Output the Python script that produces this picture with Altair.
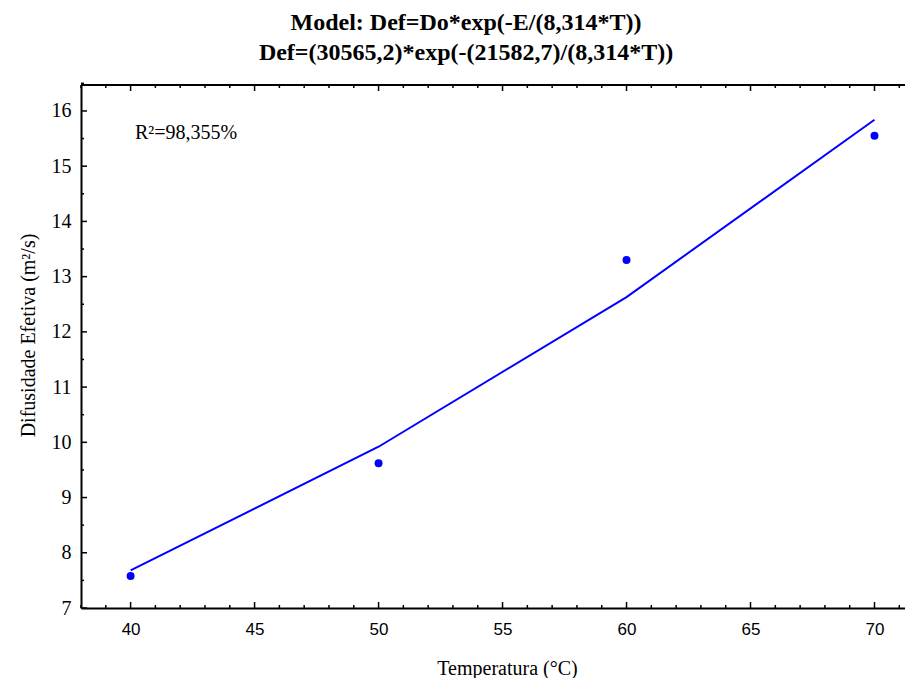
import altair as alt
import pandas as pd

# data
temps = [40, 50, 60, 70]
observed = [7.58, 9.62, 13.30, 15.55]
fitted = [7.68, 9.92, 12.63, 15.84]

x_major = [40, 45, 50, 55, 60, 65, 70]
x_minor = [38, 39, 41, 42, 43, 44, 46, 47, 48, 49, 51, 52, 53, 54, 56, 57, 58, 59,
           61, 62, 63, 64, 66, 67, 68, 69, 71]
y_major = [7, 8, 9, 10, 11, 12, 13, 14, 15, 16]
y_minor = [7.5, 8.5, 9.5, 10.5, 11.5, 12.5, 13.5, 14.5, 15.5, 16.5]

title_lines = ["Model: Def=Do*exp(-E/(8,314*T))", "Def=(30565,2)*exp(-(21582,7)/(8,314*T))"]
r2_text = "R²=98,355%"
x_title = "Temperatura (°C)"
y_title = "Difusidade Efetiva (m²/s)"

W, H = 824, 523
XDOM = [38, 71.23]
YDOM = [7, 16.47]
BLUE = "#0000ff"
SERIF = "Liberation Serif"
SANS = "Liberation Sans"

df = pd.DataFrame({"t": temps, "obs": observed, "fit": fitted})
xs = alt.Scale(domain=XDOM, nice=False, zero=False)
ys = alt.Scale(domain=YDOM, nice=False, zero=False)

x_axis = alt.Axis(
    values=x_major, ticks=False, grid=False, domainColor="black", domainWidth=2,
    labelFont=SANS, labelFontSize=17, labelColor="black", labelPadding=13,
    title=x_title, titleFont=SERIF, titleFontSize=20, titleFontWeight="normal",
    titleColor="black", titlePadding=21, titleX=426)
y_axis = alt.Axis(
    values=y_major, ticks=False, grid=False, domainColor="black", domainWidth=2,
    labelFont=SERIF, labelFontSize=20, labelColor="black", labelPadding=10,
    title=y_title, titleFont=SERIF, titleFontSize=20, titleFontWeight="normal",
    titleColor="black", titlePadding=13, titleY=250)

base = alt.Chart(df)
line = base.mark_line(color=BLUE, strokeWidth=2).encode(
    x=alt.X("t:Q", scale=xs, axis=x_axis), y=alt.Y("fit:Q", scale=ys, axis=y_axis))
points = base.mark_circle(color=BLUE, opacity=1, size=64).encode(
    x=alt.X("t:Q", scale=xs, axis=x_axis), y=alt.Y("obs:Q", scale=ys, axis=y_axis))

xmaj = pd.DataFrame({"v": x_major})
xmin = pd.DataFrame({"v": x_minor})
ymaj = pd.DataFrame({"v": y_major})
ymin = pd.DataFrame({"v": y_minor})

def xticks(d, length):
    b = alt.Chart(d).mark_rule(color="black", strokeWidth=1.5)
    xe = alt.X("v:Q", scale=xs, axis=x_axis)
    bottom = b.encode(x=xe, y=alt.value(H), y2=alt.value(H - length))
    top = b.encode(x=xe, y=alt.value(0), y2=alt.value(length))
    return bottom + top

def yticks(d, length):
    return alt.Chart(d).mark_rule(color="black", strokeWidth=1.5).encode(
        y=alt.Y("v:Q", scale=ys, axis=y_axis), x=alt.value(0), x2=alt.value(length))

top_line = alt.Chart(df).mark_rule(color="black", strokeWidth=2).encode(
    x=alt.value(0), x2=alt.value(W), y=alt.value(0))

r2 = alt.Chart(pd.DataFrame({"s": [r2_text]})).mark_text(
    font=SERIF, fontSize=20, color="black", align="left", baseline="middle").encode(
    text="s:N", x=alt.value(54), y=alt.value(48))

chart = alt.layer(
    points, line, top_line,
    xticks(xmaj, 6), xticks(xmin, 3), yticks(ymaj, 6), yticks(ymin, 3),
    r2,
).properties(
    width=W, height=H,
    autosize=alt.AutoSizeParams(type="none"),
    title=alt.TitleParams(title_lines, font=SERIF, fontSize=24, fontWeight="bold",
                          color="black", anchor="middle", dx=-27, offset=18,
                          lineHeight=30),
    padding={"left": 73, "top": 77, "right": 0, "bottom": 70},
).configure_view(stroke=None).configure(background="white")

chart.save("out.html", embed_options={"renderer": "svg", "actions": False})
